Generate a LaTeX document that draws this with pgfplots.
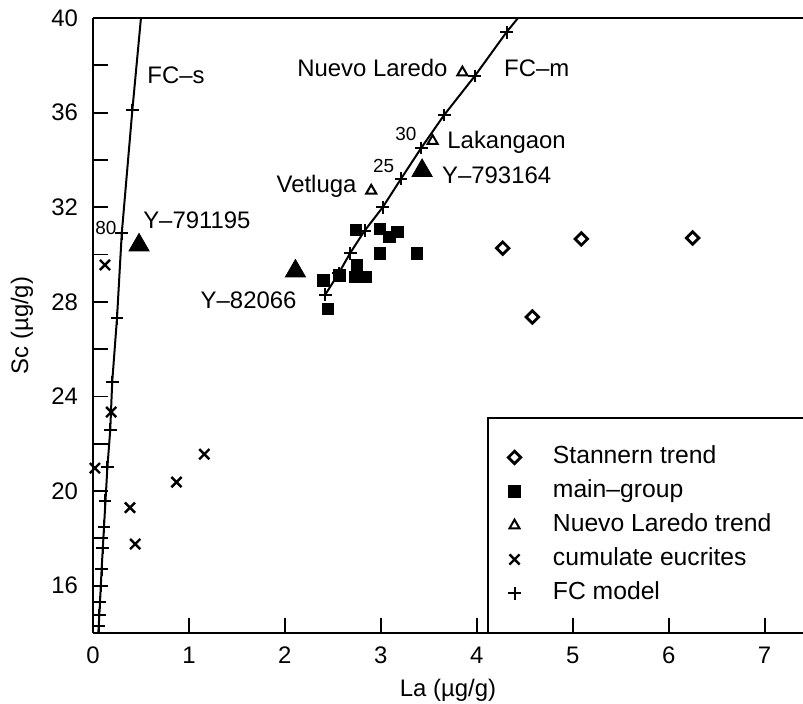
\documentclass[border=0pt]{standalone}
\usepackage{fontspec}
\setmainfont{Liberation Sans}
\usepackage{pgfplots}
\pgfplotsset{compat=1.18}
\begin{document}
\begin{tikzpicture}
\useasboundingbox (-46.5bp,-35.5bp) rectangle (355bp,316.5bp);
\begin{axis}[
  scale only axis, width=355bp, height=307.5bp,
  xmin=0, xmax=7.4, ymin=14, ymax=40,
  axis x line*=box, axis y line*=left,
  x axis line style={-}, y axis line style={-},
  axis line style={line width=1bp},
  xtick={0,1,...,7}, ytick={16,20,...,40}, minor ytick={18,22,...,38},
  xtick pos=bottom, ytick pos=left,
  tick align=inside, major tick length=7.5bp, minor tick length=7.5bp,
  every tick/.style={black, line width=0.9bp},
  tick label style={font=\fontsize{12}{14}\selectfont},
  /pgf/number format/assume math mode=true,
  yticklabel style={xshift=-4bp},
  xticklabel style={yshift=-3.5bp},
  xlabel={La (µg/g)}, ylabel={Sc (µg/g)},
  label style={font=\fontsize{12}{14}\selectfont},
  xlabel style={at={(axis description cs:0.5,-0.0927)}, anchor=center},
  ylabel style={at={(axis description cs:-0.1,0.5)}, anchor=center},
  clip=false,
  legend style={draw=none, fill=none, at={(axis cs:4.26,23.07)}, anchor=north west,
    inner xsep=3bp, inner ysep=11.3bp, row sep=1bp,
    nodes={inner sep=2bp, text height=9bp, text depth=3bp},
    font=\fontsize{12.4}{14}\selectfont, cells={anchor=west}},
]
% legend frame
\draw[line width=1bp] (axis cs:7.4,23.07) -- (axis cs:4.12,23.07) -- (axis cs:4.12,14);

\addplot[only marks, mark=square, mark size=2.2bp, mark options={rotate=45, line width=1.4bp}]
  coordinates {(4.27,30.27) (4.58,27.36) (5.09,30.66) (6.25,30.70)};
\addlegendentry{\hspace*{14bp}Stannern trend}

\addplot[only marks, mark=square*, mark size=2.9bp]
  coordinates {(2.74,31.04) (2.99,31.08) (3.09,30.74) (3.17,30.95) (2.99,30.06) (3.375,30.06)
   (2.75,29.56) (2.73,29.05) (2.84,29.05) (2.57,29.13) (2.40,28.9) (2.45,27.7)};
\addlegendentry{\hspace*{14bp}main--group}

\addplot[only marks, mark=triangle, mark size=2.9bp, mark options={line width=1bp}]
  coordinates {(3.85,37.7) (3.54,34.8) (2.90,32.7)};
\addlegendentry{\hspace*{14bp}Nuevo Laredo trend}

\addplot[only marks, mark=x, mark size=3.6bp, mark options={line width=1.2bp}]
  coordinates {(0.19,23.34) (0.02,20.97) (1.16,21.56) (0.87,20.38) (0.385,19.3) (0.44,17.76) (0.125,29.56)};
\addlegendentry{\hspace*{14bp}cumulate eucrites}

\addplot[only marks, mark=+, mark size=3.2bp, mark options={line width=1bp}]
  coordinates {(0.06,14.3) (0.065,14.75) (0.073,15.3) (0.083,16.0) (0.09,16.7) (0.10,17.6)
   (0.115,18.5) (0.125,19.6) (0.15,21.0) (0.18,22.6) (0.20,24.6) (0.25,27.3) (0.30,30.9) (0.41,36.1)};
\addlegendentry{\hspace*{14bp}FC model}

\addplot[only marks, mark=+, mark size=3.2bp, mark options={line width=1bp}, forget plot]
  coordinates {(2.42,28.3) (2.56,29.2) (2.68,30.06) (2.83,31.0) (3.02,32.0) (3.21,33.2)
   (3.42,34.5) (3.66,35.9) (3.98,37.55) (4.31,39.4)};

% FC lines
\addplot[no marks, line width=1bp, forget plot]
  coordinates {(0.055,14) (0.06,14.3) (0.073,15.3) (0.09,16.7) (0.115,18.5) (0.15,21.0)
   (0.18,22.6) (0.20,24.6) (0.25,27.3) (0.30,30.9) (0.41,36.1) (0.50,40)};
\addplot[no marks, line width=1bp, forget plot]
  coordinates {(2.42,28.3) (2.56,29.2) (2.68,30.06) (2.83,31.0) (3.02,32.0) (3.21,33.2)
   (3.42,34.5) (3.66,35.9) (3.98,37.55) (4.31,39.4) (4.43,40)};

% big filled triangles
\addplot[only marks, mark=triangle*, mark size=5.8bp, forget plot]
  coordinates {(3.43,33.55) (2.11,29.3) (0.48,30.4)};

% annotations
\begin{scope}[every node/.style={inner sep=0pt, text height=8.6bp, text depth=0pt, font=\fontsize{12}{14}\selectfont}]
\node at (axis cs:0.865,37.6) {FC--s};
\node at (axis cs:4.625,37.9) {FC--m};
\node[anchor=east] at (axis cs:3.70,37.9) {Nuevo Laredo};
\node[anchor=west] at (axis cs:3.69,34.84) {Lakangaon};
\node[anchor=west] at (axis cs:3.635,33.36) {Y--793164};
\node[anchor=east] at (axis cs:2.75,33.0) {Vetluga};
\node[anchor=east] at (axis cs:2.125,28.07) {Y--82066};
\node[anchor=west] at (axis cs:0.52,31.46) {Y--791195};
\end{scope}
\begin{scope}[every node/.style={inner sep=0pt, font=\fontsize{9.5}{11}\selectfont}]
\node at (axis cs:0.135,31.12) {80};
\node at (axis cs:3.03,33.74) {25};
\node at (axis cs:3.26,35.1) {30};
\end{scope}
\end{axis}
\end{tikzpicture}
\end{document}
